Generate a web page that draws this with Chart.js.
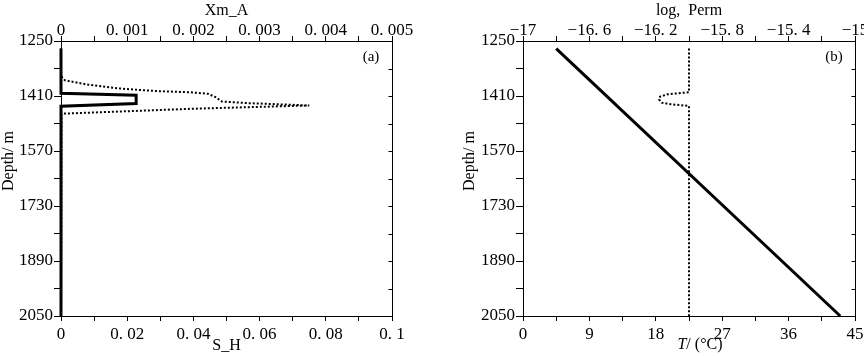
<!DOCTYPE html>
<html><head><meta charset="utf-8">
<script src="https://cdn.jsdelivr.net/npm/chart.js@4"></script>
<style>
html,body{margin:0;padding:0;background:#fff;}
#wrap{position:relative;width:864px;height:356px;overflow:hidden;}
.c{position:absolute;top:0;height:356px;}
</style></head><body>
<div id="wrap">
<div class="c" style="left:0;width:432px"><canvas id="ca"></canvas></div>
<div class="c" style="left:432px;width:432px"><canvas id="cb"></canvas></div>
</div>
<script>
// ---- tick labels ----
const depthTicks = ['1250','1410','1570','1730','1890','2050'];
const shTicks = ['0','0. 02','0. 04','0. 06','0. 08','0. 1'];
const xmTicks = ['0','0. 001','0. 002','0. 003','0. 004','0. 005'];
const tTicks = ['0','9','18','27','36','45'];
const permTicks = ['\u221217','\u221216. 6','\u221216. 2','\u221215. 8','\u221215. 4','\u221215'];

// ---- panel (a) series ----
const shDepth = [1272,1402,1408,1432,1440,2050];
const shValue = [0,0,0.0227,0.0227,0,0];
const xmDepth = [1272,1352,1364.3,1377.1,1388.8,1395.5,1399.2,1403.6,1412.9,1426,1430.9,1437.6,1446.9,1461.5,2050];
const xmValue = [0,0,0.00006,0.00041,0.00092,0.00142,0.00195,0.00222,0.00233,0.00243,0.00285,0.00375,0.00202,0.00001,0];

// ---- panel (b) series ----
const tDepth = [1272,2050];
const tValue = [4.5,43.0];
const permDepth = [1272,1399,1405,1412,1420,1429.5,1434,1439,2050];
const permValue = [-16,-16,-16.13,-16.175,-16.18,-16.165,-16.11,-16,-16];

Chart.defaults.font.family = "'Liberation Serif', 'Times New Roman', serif";
Chart.defaults.font.size = 17;
Chart.defaults.color = '#000';

const pts = (xs, ys) => ys.map((d, i) => ({x: xs[i], y: d}));

function labelAt(labels, min, step) {
  return v => {
    const k = Math.round((v - min) / step);
    return k % 2 === 0 ? labels[k / 2] : '';
  };
}

function yScale(w) {
  return {
    type: 'linear', position: 'left', reverse: true, min: 1250, max: 2050,
    ticks: {stepSize: 80, autoSkip: false, padding: 1, callback: labelAt(depthTicks, 1250, 80)},
    grid: {display: true, drawOnChartArea: false, drawTicks: true, tickLength: 7, color: '#000', lineWidth: 1},
    border: {display: true, color: '#000', width: 1},
    afterFit: s => { s.width = w; s.paddingTop = 0; s.paddingBottom = 0; }
  };
}
function xScale(pos, min, max, step, labels, h, title, tpad) {
  return {
    type: 'linear', position: pos, min: min, max: max,
    ticks: {stepSize: step, autoSkip: false, maxRotation: 0, padding: pos === 'top' ? -5 : 3,
            callback: labelAt(labels, min, step)},
    grid: {display: true, drawOnChartArea: false, drawTicks: true, tickLength: 5, color: '#000', lineWidth: 1},
    border: {display: true, color: '#000', width: 1},
    title: {display: !!title, text: title || '', padding: tpad || 0, font: {size: 16}},
    afterFit: s => { s.height = h; s.paddingLeft = 0; s.paddingRight = 0; }
  };
}

const frame = {
  id: 'frame',
  afterDraw(chart, args, o) {
    const {ctx, chartArea: a, scales} = chart;
    ctx.save();
    ctx.strokeStyle = '#000'; ctx.lineWidth = 1;
    const x = Math.round(a.right) + 0.5;
    ctx.beginPath();
    ctx.moveTo(x, a.top); ctx.lineTo(x, a.bottom);
    scales.y.ticks.forEach(t => {
      const y = Math.round(scales.y.getPixelForValue(t.value)) + 0.5;
      ctx.moveTo(x, y); ctx.lineTo(x - 4, y);
    });
    ctx.stroke();
    ctx.fillStyle = '#000';
    ctx.font = "15px 'Liberation Serif'";
    ctx.textAlign = 'center'; ctx.textBaseline = 'middle';
    ctx.fillText(o.tag, a.right - 21, a.top + 16);
    if (o.tTitle) {
      const y = 345;
      ctx.font = "italic 16px 'Liberation Serif'";
      const w1 = ctx.measureText('T').width;
      ctx.font = "16px 'Liberation Serif'";
      const w2 = ctx.measureText('/ (\u00B0C)').width;
      let sx = o.tTitleX - (w1 + w2) / 2;
      ctx.textAlign = 'left';
      ctx.font = "italic 16px 'Liberation Serif'";
      ctx.fillText('T', sx, y);
      ctx.font = "16px 'Liberation Serif'";
      ctx.fillText('/ (\u00B0C)', sx + w1, y);
    }
    ctx.translate(o.yTitleX, 161);
    ctx.rotate(-Math.PI / 2);
    ctx.textAlign = 'center';
    ctx.font = "16px 'Liberation Serif'";
    ctx.fillText('Depth/ m', 0, 0);
    ctx.restore();
  }
};

const common = {
  responsive: true, maintainAspectRatio: false, animation: false,
  plugins: {legend: {display: false}, tooltip: {enabled: false}}
};

new Chart(document.getElementById('ca'), {
  type: 'scatter',
  data: {datasets: [
    {data: pts(shValue, shDepth), xAxisID: 'x', yAxisID: 'y', showLine: true, pointRadius: 0,
     borderColor: '#000', borderWidth: 3, borderJoinStyle: 'miter', clip: false},
    {data: pts(xmValue, xmDepth), xAxisID: 'x2', yAxisID: 'y', showLine: true, pointRadius: 0,
     borderColor: '#000', borderWidth: 2, borderDash: [2, 2], clip: false}
  ]},
  options: Object.assign({}, common, {
    layout: {padding: {left: 0, right: 40, top: 0, bottom: 0}},
    scales: {
      x: xScale('bottom', 0, 0.1, 0.01, shTicks, 40, 'S_H', {top: 0, bottom: 1}),
      x2: xScale('top', 0, 0.005, 0.0005, xmTicks, 41, 'Xm_A', {top: 1, bottom: 0}),
      y: yScale(61)
    },
    plugins: Object.assign({}, common.plugins, {frame: {tag: '(a)', yTitleX: 9}})
  }),
  plugins: [frame]
});

new Chart(document.getElementById('cb'), {
  type: 'scatter',
  data: {datasets: [
    {data: pts(tValue, tDepth), xAxisID: 'x', yAxisID: 'y', showLine: true, pointRadius: 0,
     borderColor: '#000', borderWidth: 3, clip: false},
    {data: pts(permValue, permDepth), xAxisID: 'x2', yAxisID: 'y', showLine: true, pointRadius: 0,
     borderColor: '#000', borderWidth: 2, borderDash: [2, 2], tension: 0, clip: false}
  ]},
  options: Object.assign({}, common, {
    layout: {padding: {left: 0, right: 9, top: 0, bottom: 0}},
    scales: {
      x: xScale('bottom', 0, 45, 4.5, tTicks, 40, '', null),
      x2: xScale('top', -17, -15, 0.2, permTicks, 41, 'log,  Perm', {top: 1, bottom: 0}),
      y: yScale(91)
    },
    plugins: Object.assign({}, common.plugins, {frame: {tag: '(b)', yTitleX: 38, tTitle: true, tTitleX: 268}})
  }),
  plugins: [frame]
});
</script>
</body></html>
